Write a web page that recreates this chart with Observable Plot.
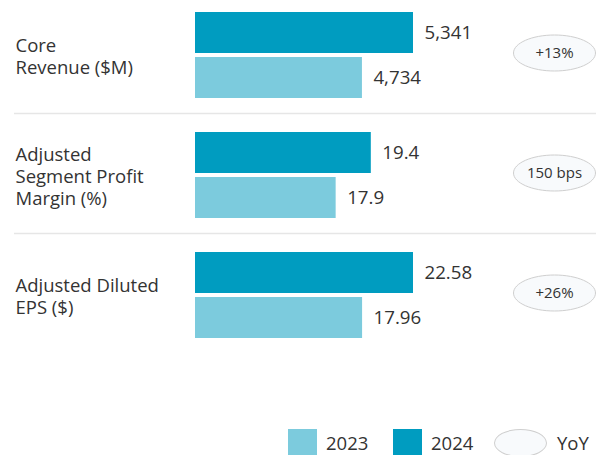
<!DOCTYPE html>
<html>
<head>
<meta charset="utf-8">
<script src="https://cdn.jsdelivr.net/npm/d3@7"></script>
<script src="https://cdn.jsdelivr.net/npm/@observablehq/plot@0.6"></script>
<style>
  html, body { margin: 0; padding: 0; background: #fff; }
  body { width: 596px; height: 455px; overflow: hidden; font-family: "Open Sans", sans-serif; color: #333; }
  #legend { position: relative; height: 35px; }
  .item { position: absolute; top: 9px; display: flex; align-items: center; font-size: 18.5px; line-height: 28px; }
  .sw { width: 29px; height: 28px; margin-right: 9px; }
  .pill { width: 53px; height: 28px; border: 1px solid #cfcfcf; border-radius: 50%; background: #f8fafc; margin-right: 10px; box-sizing: border-box; }
</style>
</head>
<body>
<div id="chart"></div>
<div id="legend"></div>
<script>
// ---- data ----
const metrics = ["Core Revenue ($M)", "Adjusted Segment Profit Margin (%)", "Adjusted Diluted EPS ($)"];
const metricLabels = ["Core\nRevenue ($M)", "Adjusted\nSegment Profit\nMargin (%)", "Adjusted Diluted\nEPS ($)"];
const years = ["2024", "2023"];
const values2024 = [5341, 19.4, 22.58];
const values2023 = [4734, 17.9, 17.96];
const text2024 = ["5,341", "19.4", "22.58"];
const text2023 = ["4,734", "17.9", "17.96"];
const yoyLabels = ["+13%", "150 bps", "+26%"];
// per-metric axis range used by the original chart (truncated axes)
const axisMin = [2750, 11.9, 2.8];
const axisMax = [5341, 21.2, 22.58];
const colors = ["#009cc0", "#7ccbdd"];

// ---- tables ----
const bars = metrics.flatMap((m, i) => {
  const lo = axisMin[i], hi = axisMax[i];
  return [
    {metric: m, year: "2024", value: values2024[i], text: text2024[i], pos: (values2024[i] - lo) / (hi - lo)},
    {metric: m, year: "2023", value: values2023[i], text: text2023[i], pos: (values2023[i] - lo) / (hi - lo)}
  ];
});
const rows = metrics.map((m, i) => ({metric: m, label: metricLabels[i], yoy: yoyLabels[i], year: "2023"}));
const separators = rows.slice(0, -1);

// ellipse symbol for the YoY pill
const pillSymbol = {
  draw(ctx) {
    const rx = 41, ry = 18, k = 0.5523;
    ctx.moveTo(rx, 0);
    ctx.bezierCurveTo(rx, ry * k, rx * k, ry, 0, ry);
    ctx.bezierCurveTo(-rx * k, ry, -rx, ry * k, -rx, 0);
    ctx.bezierCurveTo(-rx, -ry * k, -rx * k, -ry, 0, -ry);
    ctx.bezierCurveTo(rx * k, -ry, rx, -ry * k, rx, 0);
    ctx.closePath();
  }
};

const chart = Plot.plot({
  width: 596,
  height: 420,
  marginLeft: 195,
  marginRight: 183,
  marginTop: 10,
  marginBottom: 82,
  style: {fontFamily: "Open Sans, sans-serif", color: "#333", background: "#fff"},
  x: {domain: [0, 1], axis: null},
  y: {domain: years, axis: null, paddingInner: 0.09, paddingOuter: 0},
  fy: {domain: metrics, axis: null, paddingInner: 0.278, paddingOuter: 0},
  color: {domain: years, range: colors},
  marks: [
    Plot.ruleY(separators, {fy: "metric", y: "year", dy: 35.5, stroke: "#e6e6e6", strokeWidth: 1.5, insetLeft: -181, insetRight: -183}),
    Plot.barX(bars, {fy: "metric", y: "year", x: "pos", fill: "year"}),
    Plot.text(bars, {fy: "metric", y: "year", x: "pos", text: "text", dx: 11, textAnchor: "start", fontSize: 18.7, fill: "#333"}),
    Plot.text(rows, {fy: "metric", text: "label", frameAnchor: "left", dx: -180, dy: 1, textAnchor: "start", lineHeight: 1.2, fontSize: 18.5, fill: "#333"}),
    Plot.dot(rows, {fy: "metric", frameAnchor: "right", dx: 141, dy: -2, symbol: pillSymbol, fill: "#f8fafc", stroke: "#cfcfcf", strokeWidth: 1}),
    Plot.text(rows, {fy: "metric", text: "yoy", frameAnchor: "right", dx: 141, dy: -2, textAnchor: "middle", fontSize: 15, fill: "#333"})
  ]
});
document.getElementById("chart").appendChild(chart);

// ---- legend ----
const legend = document.getElementById("legend");
const items = [
  {label: "2023", kind: "sw", color: colors[1], left: 288},
  {label: "2024", kind: "sw", color: colors[0], left: 393},
  {label: "YoY", kind: "pill", color: null, left: 494}
];
for (const it of items) {
  const d = document.createElement("div");
  d.className = "item";
  d.style.left = it.left + "px";
  const s = document.createElement("div");
  s.className = it.kind;
  if (it.color) s.style.background = it.color;
  const t = document.createElement("span");
  t.textContent = it.label;
  d.appendChild(s);
  d.appendChild(t);
  legend.appendChild(d);
}
</script>
</body>
</html>
